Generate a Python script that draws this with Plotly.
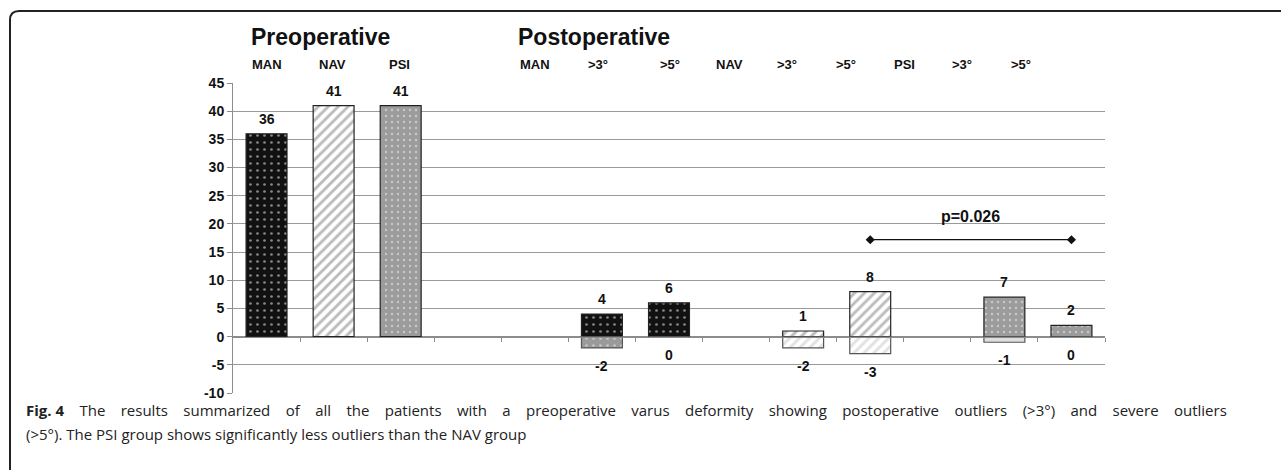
import plotly.graph_objects as go

# ---------------- data ----------------
cat_keys = ["pre_MAN", "pre_NAV", "pre_PSI", "gap", "post_MAN", "MAN_3", "MAN_5",
            "post_NAV", "NAV_3", "NAV_5", "post_PSI", "PSI_3", "PSI_5"]
header_labels = ["MAN", "NAV", "PSI", "MAN", ">3°", ">5°", "NAV", ">3°", ">5°", "PSI", ">3°", ">5°"]

pre_cats = ["pre_MAN", "pre_NAV", "pre_PSI"]
pre_values = [36, 41, 41]

man_cats = ["MAN_3", "MAN_5"]
man_pos = [4, 6]
man_neg = [-2, 0]

nav_cats = ["NAV_3", "NAV_5"]
nav_pos = [1, 8]
nav_neg = [-2, -3]

psi_cats = ["PSI_3", "PSI_5"]
psi_pos = [7, 2]
psi_neg = [-1, 0]

y_ticks = [-10, -5, 0, 5, 10, 15, 20, 25, 30, 35, 40, 45]

p_text = "p=0.026"
p_cats = ["NAV_5", "PSI_5"]
p_level = 17.2
p_text_level = 21.3

caption1_words = ["<b>Fig.\u00a04</b>", "The", "results", "summarized", "of", "all", "the", "patients",
                  "with", "a", "preoperative", "varus", "deformity", "showing", "postoperative",
                  "outliers", "(>3°)", "and", "severe", "outliers"]
caption2 = "(>5°). The PSI group shows significantly less outliers than the NAV group"

# ---------------- geometry helpers ----------------
W, H = 1281, 470
L, R, T, B = 233, 1105, 83, 393


def px(xp):
    return (xp - L) / (R - L)


def py(yp):
    return (B - yp) / (B - T)


def idx(keys):
    return [cat_keys.index(k) for k in keys]


FONT = "Liberation Sans, Arial, sans-serif"

styles = {
    "MAN": dict(pos=dict(bgcolor="#111111", fgcolor="#ffffff", shape=".", size=7, solidity=0.12),
                neg=dict(bgcolor="#9a9a9a", fgcolor="#f0f0f0", shape=".", size=7, solidity=0.12)),
    "NAV": dict(pos=dict(bgcolor="#ffffff", fgcolor="#7a7a7a", shape="/", size=7, solidity=0.42),
                neg=dict(bgcolor="#ffffff", fgcolor="#c4c4c4", shape="/", size=7, solidity=0.42)),
    "PSI": dict(pos=dict(bgcolor="#9c9c9c", fgcolor="#f4f4f4", shape=".", size=6, solidity=0.12),
                neg=dict(bgcolor="#dedede", fgcolor="#dedede", shape="", size=6, solidity=0.1)),
}

fig = go.Figure()

BAR_W = 0.61

# preoperative bars
for k, v, g in zip(pre_cats, pre_values, ["MAN", "NAV", "PSI"]):
    fig.add_trace(go.Bar(x=idx([k]), y=[v], width=BAR_W,
                         marker=dict(pattern=styles[g]["pos"], line=dict(color="#222222", width=1.2)),
                         hoverinfo="skip"))

# postoperative bars
for g, cats, pos, neg in [("MAN", man_cats, man_pos, man_neg),
                          ("NAV", nav_cats, nav_pos, nav_neg),
                          ("PSI", psi_cats, psi_pos, psi_neg)]:
    fig.add_trace(go.Bar(x=idx(cats), y=pos, width=BAR_W,
                         marker=dict(pattern=styles[g]["pos"], line=dict(color="#222222", width=1.2)),
                         hoverinfo="skip"))
    fig.add_trace(go.Bar(x=idx(cats), y=neg, width=BAR_W,
                         marker=dict(color=styles[g]["neg"]["bgcolor"], pattern=styles[g]["neg"],
                                     line=dict(color="#555555", width=1.2)),
                         hoverinfo="skip"))

# data labels
annotations = []
label_font = dict(family=FONT, size=14, color="#111111", weight="bold")
all_pos = list(zip(pre_cats, pre_values)) + list(zip(man_cats, man_pos)) + \
    list(zip(nav_cats, nav_pos)) + list(zip(psi_cats, psi_pos))
for k, v in all_pos:
    annotations.append(dict(x=cat_keys.index(k), y=v, xref="x", yref="y", text=str(v),
                            showarrow=False, yanchor="bottom", yshift=5, font=label_font))
all_neg = list(zip(man_cats, man_neg)) + list(zip(nav_cats, nav_neg)) + list(zip(psi_cats, psi_neg))
for k, v in all_neg:
    annotations.append(dict(x=cat_keys.index(k), y=v, xref="x", yref="y", text=str(v),
                            showarrow=False, yanchor="top", yshift=-8, font=label_font))

# p-value bracket
fig.add_trace(go.Scatter(x=idx(p_cats), y=[p_level, p_level], mode="lines+markers",
                         line=dict(color="#111111", width=1.3),
                         marker=dict(symbol="diamond", size=7, color="#111111"),
                         hoverinfo="skip"))
annotations.append(dict(x=sum(idx(p_cats)) / 2, y=p_text_level, xref="x", yref="y", text=p_text,
                        showarrow=False, font=dict(family=FONT, size=16, color="#111111", weight="bold")))

# header texts
annotations.append(dict(x=px(249), y=py(37), xref="paper", yref="paper", text="Preoperative",
                        xanchor="left", yanchor="middle", showarrow=False,
                        font=dict(family=FONT, size=23, color="#111111", weight="bold")))
annotations.append(dict(x=px(516), y=py(37), xref="paper", yref="paper", text="Postoperative",
                        xanchor="left", yanchor="middle", showarrow=False,
                        font=dict(family=FONT, size=23, color="#111111", weight="bold")))
header_x = [267, 332, 399, 535, 598, 670, 729, 787, 846, 904, 962, 1021]
for t, xp in zip(header_labels, header_x):
    annotations.append(dict(x=px(xp), y=py(64), xref="paper", yref="paper", text=t,
                            xanchor="center", yanchor="middle", showarrow=False,
                            font=dict(family=FONT, size=13, color="#111111", weight="bold")))

# caption (first line justified by widening the word gaps)
cap_font = dict(family="Open Sans, sans-serif", size=15, color="#222222")
gap = " \u2002\u2009\u200a"
caption1 = gap.join(caption1_words)
annotations.append(dict(x=px(24), y=py(410), xref="paper", yref="paper", text=caption1,
                        xanchor="left", yanchor="middle", showarrow=False, font=cap_font))
annotations.append(dict(x=px(24), y=py(434), xref="paper", yref="paper", text=caption2,
                        xanchor="left", yanchor="middle", showarrow=False, font=cap_font))

# frame
fx, fy, r = 10, 11, 9
x0, xr = px(fx), px(W + 5)
ytop, ybot = py(fy), py(H + 5)
path = (f"M {x0},{ybot} L {x0},{py(fy + r)} Q {x0},{ytop} {px(fx + r)},{ytop} L {xr},{ytop}")
shapes = [dict(type="path", xref="paper", yref="paper", path=path,
               line=dict(color="#222222", width=2))]

fig.update_layout(
    width=W, height=H,
    margin=dict(l=L, r=W - R, t=T, b=H - B),
    plot_bgcolor="white", paper_bgcolor="white",
    showlegend=False, barmode="overlay",
    annotations=annotations, shapes=shapes,
    xaxis=dict(range=[-0.5, len(cat_keys) - 0.5], showgrid=False, zeroline=False,
               showline=True, linecolor="#8c8c8c", linewidth=1,
               anchor="free", position=10 / 55,
               ticks="outside", ticklen=4, tickcolor="#8c8c8c",
               tickvals=[i + 0.5 for i in range(len(cat_keys))], showticklabels=False),
    yaxis=dict(range=[-10, 45], tickvals=y_ticks, ticktext=[str(v) for v in y_ticks],
               showgrid=True, gridcolor="#9a9a9a", gridwidth=1,
               zeroline=True, zerolinecolor="#8c8c8c", zerolinewidth=1,
               showline=True, linecolor="#8c8c8c", linewidth=1,
               ticks="outside", ticklen=5, tickcolor="#8c8c8c",
               tickfont=dict(family=FONT, size=14, color="#111111", weight="bold")),
)

fig.write_html("out.html", config={"displayModeBar": False},
               post_script="document.body.style.margin='0px';document.body.style.overflow='hidden';")
